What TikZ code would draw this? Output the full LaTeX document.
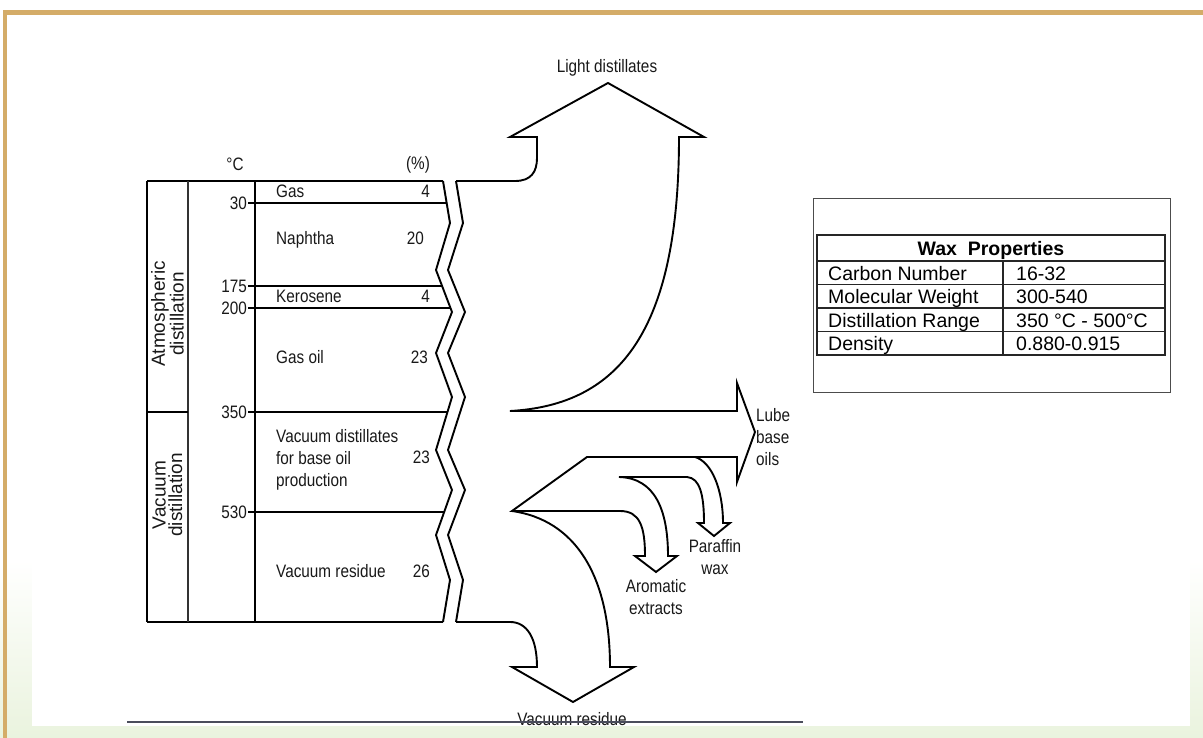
\documentclass[tikz,border=0pt]{standalone}
\usepackage{fontspec}
\setmainfont{Liberation Sans}
\newfontfamily\narrowfont[FakeStretch=0.85]{Liberation Sans}
\definecolor{gold}{HTML}{D4AC68}
\definecolor{pale}{HTML}{EAF3DE}
\definecolor{rule}{HTML}{4A4C5C}
\begin{document}
\begin{tikzpicture}[x=1pt,y=-1pt,line join=miter,
  lbl/.style={font=\narrowfont\fontsize{18}{22}\selectfont,inner sep=0pt,text=black!90},
  sidelbl/.style={font=\fontsize{19}{16.5}\selectfont,inner sep=0pt,text=black!90,rotate=90,align=center},
  tbl/.style={font=\fontsize{19.5}{22}\selectfont,inner sep=0pt},
  thick line/.style={line width=2.4pt},
  thin line/.style={line width=1.5pt},
  outline/.style={line width=1.9pt},
  tblline/.style={line width=1.3pt,black!85}]
\useasboundingbox (0,0) rectangle (1203,738);
% slide background
\fill[white] (0,0) rectangle (1203,738);
\shade[top color=white,bottom color=pale] (0,560) rectangle (1203,738);
\fill[white] (32,20) rectangle (1190,726);
\fill[gold] (3,10) rectangle (1203,15);
\fill[gold] (3,10) rectangle (7,738);

\begin{scope}
\clip (32,20) rectangle (1190,726);
% ---------- fraction table ----------
\coordinate (TL) at (147,181);
\coordinate (BL) at (147,622);
% zigzag break, left and right edges
\foreach \n/\x/\y in {0/443/181,1/450/223,2/436/270,3/452/312,4/436/353,5/452/397,
                      6/436/450,7/452/490,8/436/535,9/450/580,10/443/622}
  \coordinate (L\n) at (\x,\y);
\foreach \n/\x/\y in {0/456/181,1/463/223,2/448/270,3/465/312,4/448/353,5/465/397,
                      6/448/450,7/465/490,8/448/535,9/463/580,10/456/622}
  \coordinate (R\n) at (\x,\y);
\draw[outline] (L0) \foreach \n in {1,...,10}{ -- (L\n)};
\draw[outline] (R0) \foreach \n in {1,...,10}{ -- (R\n)};

\draw[thick line] (TL) -- (L0);
\draw[outline] (BL) -- (L10);
\draw[outline] (TL) -- (BL);
\draw[line width=1.2pt,black!80] (188,181) -- (188,622);
\draw[line width=1.3pt] (255,181) -- (255,622);
\draw[thick line] (147,412) -- (188,412);

% temperature cuts
\coordinate (c30) at (248,203);   \coordinate (e30) at (446.7,203);
\coordinate (c175) at (248,286);  \coordinate (e175) at (442.1,286);
\coordinate (c200) at (248,308);  \coordinate (e200) at (450.5,308);
\coordinate (c350) at (248,412);  \coordinate (e350) at (447.5,412);
\coordinate (c530) at (248,512);  \coordinate (e530) at (444.2,512);
\draw[thin line] (c30) -- (e30);
\draw[thin line] (c175) -- (e175);
\draw[thick line] (c200) -- (e200);
\draw[thick line] (c350) -- (e350);
\draw[thick line] (c530) -- (e530);

\node[lbl,anchor=east] (t30) at ([xshift=-1pt]c30) {30};
\node[lbl,anchor=east] (t175) at ([xshift=-1pt]c175) {175};
\node[lbl,anchor=east] (t200) at ([xshift=-1pt]c200) {200};
\node[lbl,anchor=east] (t350) at ([xshift=-1pt]c350) {350};
\node[lbl,anchor=east] (t530) at ([xshift=-1pt]c530) {530};

\node[lbl,anchor=base] (degc) at (235,171) {°C};
\node[lbl,anchor=base] (pct) at (418,170) {(\%)};

\node[lbl,anchor=base west] (gas) at (276,198) {Gas};
\node[lbl,anchor=base east] (pgas) at (430,198) {4};
\node[lbl,anchor=base west] (nap) at (276,245) {Naphtha};
\node[lbl,anchor=base east] (pnap) at (424,245) {20};
\node[lbl,anchor=base west] (ker) at (276,303) {Kerosene};
\node[lbl,anchor=base east] (pker) at (430,303) {4};
\node[lbl,anchor=base west] (gso) at (276,363) {Gas oil};
\node[lbl,anchor=base east] (pgso) at (428,363) {23};
\node[lbl,anchor=north west,align=left] (vd) at (276,429) {Vacuum distillates\\for base oil\\production};
\node[lbl,anchor=base east] (pvd) at (430,463) {23};
\node[lbl,anchor=base west] (vr) at (276,577) {Vacuum residue};
\node[lbl,anchor=base east] (pvr) at (430,577) {26};

\node[sidelbl] (atm) at (167.5,314) {Atmospheric\\distillation};
\node[sidelbl] (vac) at (167.5,495) {Vacuum\\distillation};

% ---------- product arrows ----------
\draw[outline] (R0) -- (515,181) .. controls (531,181) and (537,172) .. (537,158)
  -- (537,137) -- (510,137) -- (608,83) -- (704,137) -- (679,137)
  .. controls (679,330) and (620,405) .. (510,411)
  -- (737,411) -- (737,383) -- (755,432) -- (737,482) -- (737,457)
  -- (587,457) -- (512,511) -- (620,511)
  .. controls (640,511) and (645,527) .. (645,556)
  -- (635,556) -- (656,572) -- (677,556) -- (668,556)
  .. controls (668,510) and (655,478) .. (619,477)
  -- (687,477) .. controls (700,478) and (704,495) .. (704,523)
  -- (698,523) -- (714,536) -- (730,523) -- (723,523)
  .. controls (723,490) and (712,462) .. (695,457);
\draw[outline] (512,511) .. controls (575,520) and (610,575) .. (610,667)
  -- (634,667) -- (573,702) -- (512,667) -- (537,667)
  .. controls (537,638) and (527,622) .. (510,622) -- (R10);

\node[lbl,anchor=base] (light) at (607,73) {Light distillates};
\node[lbl,anchor=north west,align=left] (lube) at (756,408) {Lube\\base\\oils};
\node[lbl,anchor=north,align=center] (paraf) at (715,539) {Paraffin\\wax};
\node[lbl,anchor=north,align=center] (arom) at (656,579) {Aromatic\\extracts};
\node[lbl,anchor=base] (vres) at (572,725) {Vacuum residue};
\draw[line width=1.4pt,rule] (127,722) -- (803,722);
\end{scope}

% ---------- wax properties ----------
\draw[line width=1pt,black!70] (813,199) rectangle (1170,392);
\draw[tblline] (817,235) rectangle (1165,355);
\foreach \y in {261,284.5,308,331.5} \draw[tblline] (817,\y) -- (1165,\y);
\draw[tblline] (1003,261) -- (1003,355);
\node[tbl,anchor=base,font=\bfseries\fontsize{19.5}{22}\selectfont] (wax) at (991,256) {Wax\ \ Properties};
\node[tbl,anchor=base west] (k1) at (828,280) {Carbon Number};
\node[tbl,anchor=base west] (v1) at (1016,280) {16-32};
\node[tbl,anchor=base west] (k2) at (828,303.5) {Molecular Weight};
\node[tbl,anchor=base west] (v2) at (1016,303.5) {300-540};
\node[tbl,anchor=base west] (k3) at (828,327) {Distillation Range};
\node[tbl,anchor=base west] (v3) at (1016,327) {350 °C - 500°C};
\node[tbl,anchor=base west] (k4) at (828,350.5) {Density};
\node[tbl,anchor=base west] (v4) at (1016,350.5) {0.880-0.915};
\end{tikzpicture}
\end{document}
